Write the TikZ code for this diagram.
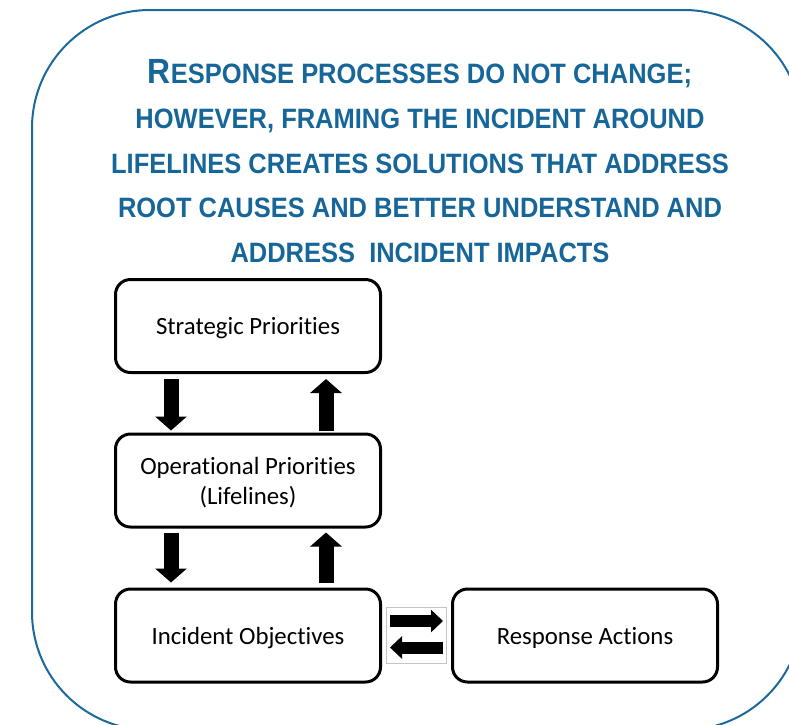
\documentclass[tikz,border=0pt]{standalone}
\usepackage{fontspec}
\setmainfont[Ligatures=NoCommon]{Carlito}
\newfontfamily\titlefont[FakeStretch=0.91]{Liberation Sans}
\usetikzlibrary{arrows.meta}
\definecolor{ttlblue}{HTML}{17669A}
\definecolor{frameblue}{HTML}{1B6A9B}
\definecolor{smallgray}{HTML}{C4C4C4}
\tikzset{
  procbox/.style={draw=black, line width=3pt, rounded corners=15pt, fill=white,
    minimum width=265pt, minimum height=93pt, align=center, inner sep=0pt,
    text depth=0pt, font=\fontsize{24.8}{30}\selectfont},
  ttl/.style={anchor=base, text=ttlblue, inner sep=0pt,
    font=\titlefont\bfseries\fontsize{28}{34}\selectfont},
  vblock/.style={draw=black, line width=15pt,
    -{Triangle[length=14pt, width=31pt]}},
  hblock/.style={draw=black, line width=12pt,
    -{Triangle[length=12pt, width=22pt]}},
}
\begin{document}
\begin{tikzpicture}[x=1pt,y=-1pt]
\useasboundingbox (0,0) rectangle (789,724);
\clip (0,0) rectangle (789,724);
\fill[white] (0,0) rectangle (789,724);
\draw[frameblue, line width=2pt, rounded corners=118pt] (32,10) rectangle (802,730);

\node[ttl] (t1) at (420,83) {{\fontsize{35}{40}\selectfont R}ESPONSE PROCESSES DO NOT CHANGE;};
\node[ttl] (t2) at (420,128) {HOWEVER, FRAMING THE INCIDENT AROUND};
\node[ttl] (t3) at (420,173) {LIFELINES CREATES SOLUTIONS THAT ADDRESS};
\node[ttl] (t4) at (420,217) {ROOT CAUSES AND BETTER UNDERSTAND AND};
\node[ttl] (t5) at (420,262) {ADDRESS\ \ INCIDENT IMPACTS};

\node[procbox] (sp) at (248,326) {Strategic Priorities};
\node[procbox] (op) at (248,480.5) {Operational Priorities\\(Lifelines)};
\node[procbox] (io) at (248,635.5) {Incident Objectives};
\node[procbox] (ra) at (585,635.5) {Response Actions};

\node[draw=smallgray, line width=1pt, minimum width=60pt, minimum height=56pt, inner sep=0pt] (sw) at (416.5,635) {};

\draw[vblock] ([xshift=-77pt,yshift=-5pt]sp.south) -- ([xshift=-77pt,yshift=2pt]op.north);
\draw[vblock] ([xshift=78pt,yshift=2pt]op.north) -- ([xshift=78pt,yshift=-5pt]sp.south);
\draw[vblock] ([xshift=-77pt,yshift=-4pt]op.south) -- ([xshift=-77pt,yshift=5pt]io.north);
\draw[vblock] ([xshift=78pt,yshift=5pt]io.north) -- ([xshift=78pt,yshift=-4pt]op.south);

\draw[hblock] ([xshift=4pt,yshift=14pt]sw.west) -- ([xshift=-4pt,yshift=14pt]sw.east);
\draw[hblock] ([xshift=-4pt,yshift=-12.5pt]sw.east) -- ([xshift=4pt,yshift=-12.5pt]sw.west);
\end{tikzpicture}
\end{document}
